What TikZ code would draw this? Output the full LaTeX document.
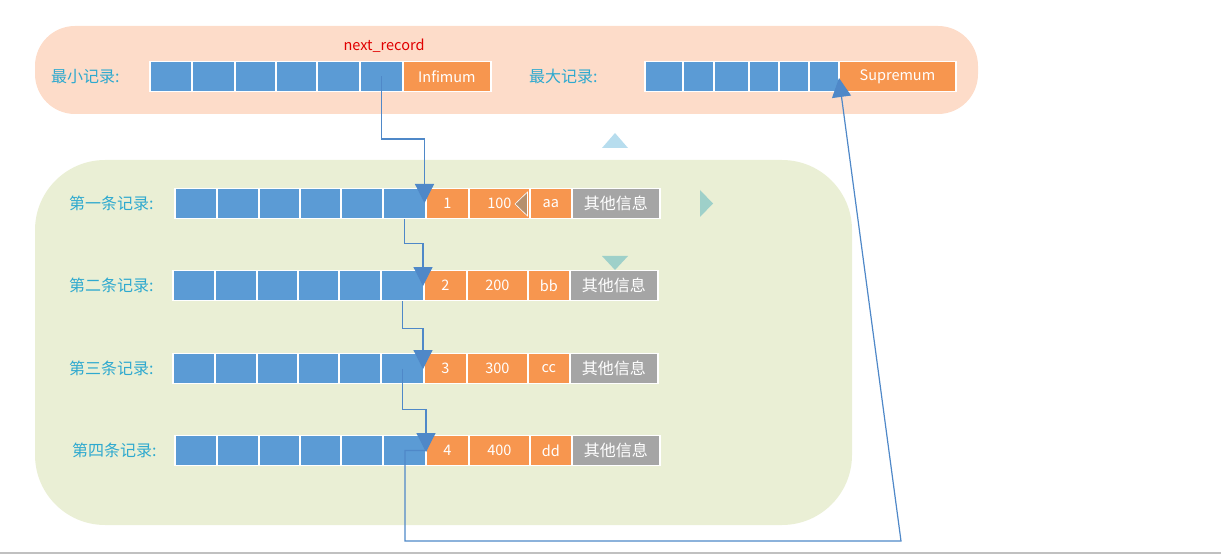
\documentclass[tikz,border=0pt]{standalone}
\usepackage{fontspec}
\setmainfont{Noto Sans CJK SC}
\usetikzlibrary{arrows.meta}
\definecolor{cblue}{HTML}{5B9BD5}
\definecolor{corange}{HTML}{F7964F}
\definecolor{cgrey}{HTML}{A5A5A5}
\definecolor{peach}{HTML}{FDDCC9}
\definecolor{sage}{HTML}{EAEFD5}
\definecolor{lbl}{HTML}{2EA9CF}
\definecolor{lnk}{HTML}{4F88C8}
\definecolor{nred}{HTML}{E00000}
\definecolor{hup}{HTML}{B7DDEE}
\definecolor{hteal}{HTML}{9ED0C9}
\definecolor{hbrown}{HTML}{B5906E}
\definecolor{rule}{HTML}{C0C0C0}
\newcommand\recrow[5]{%
  \foreach \l/\r [count=\i] in {174/216,216/258,258/299,299/340,340/382,382/425}{%
    \pgfmathsetmacro\w{\r-\l}%
    \node[bcell, minimum width=\w pt] (#1b\i) at (\l,#2) {};%
  }%
  \node[ocell, minimum width=43pt] (#1k) at (425,#2) {#3};%
  \node[ocell, minimum width=61pt] (#1v) at (468,#2) {#4};%
  \node[ocell, minimum width=42pt] (#1s) at (529,#2) {#5};%
  \node[gcell, minimum width=88pt] (#1o) at (571,#2) {其他信息};%
}
\begin{document}
\begin{tikzpicture}[x=1pt,y=-1pt,
  cell/.style={draw=white, line width=1.8pt, inner sep=0pt, anchor=west,
    minimum height=30pt, text=white, font=\fontsize{14.5}{16}\selectfont},
  bcell/.style={cell, fill=cblue},
  ocell/.style={cell, fill=corange},
  gcell/.style={cell, fill=cgrey, font=\fontsize{16}{18}\selectfont},
  lab/.style={anchor=west, inner sep=0pt, text=lbl, font=\fontsize{16}{18}\selectfont},
  link/.style={draw=lnk, line width=1.2pt, -{Triangle[width=19pt,length=19pt,fill=lnk]}},
]
\useasboundingbox (0,0) rectangle (1221,556);
% bands
\fill[peach, rounded corners=40pt] (35,26) rectangle (978,114);
\fill[sage, rounded corners=70pt] (35,160) rectangle (852,525);
\draw[rule, line width=2pt] (0,553) -- (1221,553);

% top rows
\foreach \l/\r [count=\i] in {149/191,191/234,234/275,275/316,316/359,359/402}{
  \pgfmathsetmacro\w{\r-\l}
  \node[bcell, minimum width=\w pt] (min\i) at (\l,76.5) {};
}
\node[ocell, minimum width=88pt] (inf) at (402,76.5) {Infimum};
\foreach \l/\r [count=\i] in {644/682,682/713,713/748,748/778,778/808,808/838}{
  \pgfmathsetmacro\w{\r-\l}
  \node[bcell, minimum width=\w pt] (max\i) at (\l,76.5) {};
}
\node[ocell, minimum width=117pt] (sup) at (838,76.5) {Supremum};
\node[lab] (lmin) at (51,76.5) {最小记录:};
\node[lab] (lmax) at (529,76.5) {最大记录:};
\node[text=nred, inner sep=0pt, font=\fontsize{14.5}{16}\selectfont] (nr) at (384,46) {next\_record};

% record rows
\recrow{r1}{203.5}{1}{100}{aa}
\begin{scope}[xshift=-2pt]
\recrow{r2}{285.5}{2}{200}{bb}
\recrow{r3}{368.5}{3}{300}{cc}
\end{scope}
\recrow{r4}{450.5}{4}{400}{dd}
\node[lab] (l1) at (69,203.5) {第一条记录:};
\node[lab] (l2) at (69,285.5) {第二条记录:};
\node[lab] (l3) at (69,368.5) {第三条记录:};
\node[lab] (l4) at (72,450.5) {第四条记录:};

% handles
\fill[hup] (602,148) -- (628,148) -- (615,133) -- cycle;
\fill[hteal] (700,190) -- (700,217) -- (713,203.5) -- cycle;
\fill[hteal] (602,256) -- (628,256) -- (615,270) -- cycle;
\filldraw[fill=hbrown, draw=white, line width=0.6pt] (527.5,192) -- (527.5,216) -- (515,204) -- cycle;

% links
\coordinate (t1) at (424.5,203);
\coordinate (t2) at (423,286);
\coordinate (t3) at (423,369);
\coordinate (t4) at (426,452);
\coordinate (lb) at (405,541);
\coordinate (rb) at (901,541);
\coordinate (t5) at (839,78);
\draw[link] (min6.center) -- ++(0,62.5) -| (t1);
\draw[link] (r1b6.south) -- ++(0,24) -| (t2);
\draw[link] (r2b6.south) -- ++(0,27) -| (t3);
\draw[link] (r3b6.center) -- ++(0,41) -| (t4);
\draw[link] (r4b6.east) -| (lb) -- (rb) -- (t5);
\end{tikzpicture}
\end{document}
